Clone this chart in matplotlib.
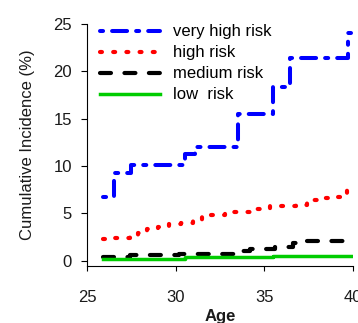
import matplotlib
matplotlib.use("Agg")
import matplotlib.pyplot as plt

plt.rcParams['font.family'] = ['Liberation Sans', 'DejaVu Sans']
plt.rcParams['lines.scale_dashes'] = False

# step functions: age at which each step starts, cumulative incidence (%)
age_very_high = [25.9, 26.5, 27.5, 30.5, 31.1, 33.5, 35.5, 36.45, 39.7, 39.9]
inc_very_high = [6.7, 9.3, 10.1, 11.3, 12.0, 15.5, 18.4, 21.4, 24.0, 24.0]

age_high = [25.9, 26.6, 27.4, 27.9, 28.4, 29.0, 29.6, 30.3, 31.0, 31.5, 32.0,
            32.8, 33.5, 34.5, 35.3, 36.8, 37.4, 38.0, 38.7, 39.5, 39.65, 39.9]
inc_high = [2.3, 2.45, 2.55, 2.9, 3.4, 3.55, 3.9, 4.0, 4.15, 4.7, 4.85,
            5.1, 5.2, 5.5, 5.75, 5.9, 6.4, 6.6, 6.7, 6.85, 8.0, 8.0]

age_medium = [25.9, 27.4, 30.2, 33.4, 34.2, 35.6, 36.6, 37.3, 38.0, 39.6, 39.9]
inc_medium = [0.4, 0.6, 0.7, 1.0, 1.25, 1.5, 1.9, 2.05, 2.1, 2.35, 2.35]

age_low = [25.9, 30.5, 35.5, 39.9]
inc_low = [0.2, 0.35, 0.5, 0.5]

labels = ['very high risk', 'high risk', 'medium risk', 'low  risk']

fig = plt.figure(figsize=(3.58, 3.23), dpi=100)
ax = fig.add_axes([0.243, 0.1765, 0.743, 0.7492])

ax.step(age_very_high, inc_very_high, where='post', color='#0000FF', lw=2.9,
        dashes=(2.2, 6.5, 10.8, 6.5), dash_capstyle='round', label=labels[0])
ax.step(age_high, inc_high, where='post', color='#FF0000', lw=3.0,
        dashes=(1.4, 8.1), dash_capstyle='round', label=labels[1])
ax.step(age_medium, inc_medium, where='post', color='black', lw=3.0,
        dashes=(7.9, 9.7), dash_capstyle='round', label=labels[2])
ax.step(age_low, inc_low, where='post', color='#00CC00', lw=2.5,
        label=labels[3])

ax.set_xlim(25, 40)
ax.set_ylim(-0.55, 25)
ax.set_xticks([25, 30, 35, 40])
ax.set_yticks([0, 5, 10, 15, 20, 25])
ax.spines['top'].set_visible(False)
ax.spines['right'].set_visible(False)
ax.tick_params(axis='y', length=4.3, pad=6.5, labelsize=12, labelcolor='#1a1a1a')
ax.tick_params(axis='x', length=3.6, pad=13.5, labelsize=12, labelcolor='#1a1a1a')

ax.set_ylabel('Cumulative Incidence (%)', fontsize=12, color='#1a1a1a', labelpad=13)
ax.set_xlabel('Age', fontsize=12, fontweight='bold', color='#1a1a1a', labelpad=3)

ax.legend(loc='upper left', bbox_to_anchor=(0.049, 0.998), frameon=False,
          fontsize=12, handlelength=3.6, handletextpad=0.78, labelspacing=0.36,
          borderpad=0, borderaxespad=0)

fig.savefig('out.png', dpi=100)
